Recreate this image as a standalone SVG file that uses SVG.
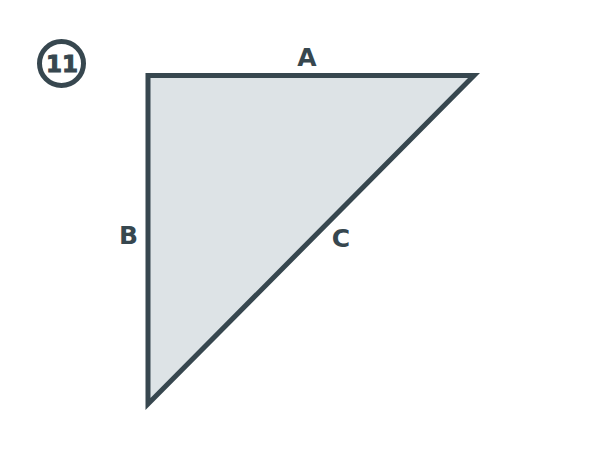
<svg xmlns="http://www.w3.org/2000/svg" width="600" height="450" viewBox="0 0 600 450">
<style>
.lbl{font-family:"DejaVu Sans","Liberation Sans",sans-serif;font-weight:bold;font-size:25px;fill:#37474f;text-anchor:middle}
</style>
<rect width="600" height="450" fill="#ffffff"/>
<g id="badge">
<circle cx="61.5" cy="63.5" r="22" fill="none" stroke="#37474f" stroke-width="5"/>
<text x="62" y="71.5" class="lbl" style="font-size:23px;stroke:#37474f;stroke-width:1">11</text>
</g>
<g id="triangle">
<polygon points="148,75.5 474,75.5 148,404" fill="#dde3e6" stroke="#37474f" stroke-width="5" stroke-linejoin="miter"/>
</g>
<g id="labels">
<text x="307" y="66" class="lbl">A</text>
<text x="128.5" y="244" class="lbl">B</text>
<text x="341" y="247" class="lbl">C</text>
</g>
</svg>
